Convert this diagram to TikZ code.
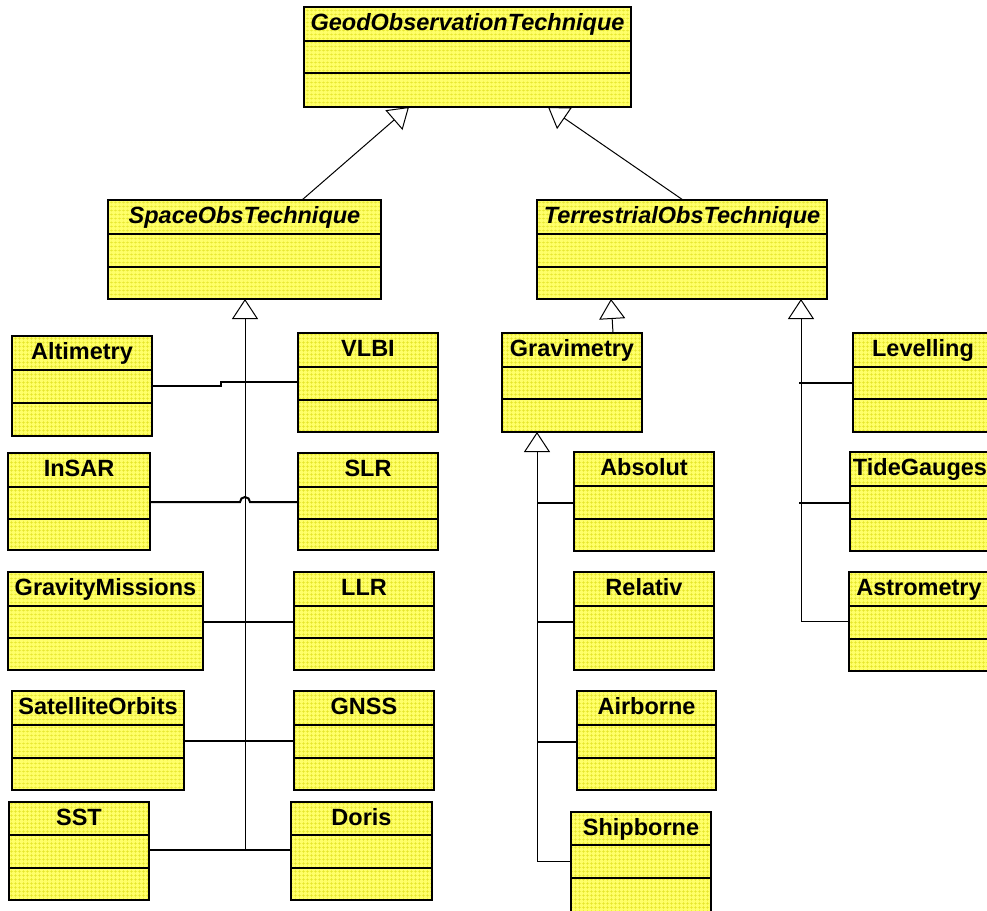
\documentclass[tikz,border=0pt]{standalone}
\usepackage{fontspec}
\setmainfont{Liberation Sans}
\usetikzlibrary{calc,arrows.meta,patterns.meta}
\definecolor{boxfill}{RGB}{255,255,105}
\definecolor{gridcol}{RGB}{228,228,40}
\tikzset{
  umlbox/.style={draw=black, line width=1.3pt, inner sep=0pt, outer sep=0pt,
    preaction={fill=boxfill},
    pattern={Hatch[angle=0,distance=4pt,line width=0.35pt]}, pattern color=gridcol},
  sepline/.style={draw=black, line width=1.3pt},
  title/.style={anchor=base, font=\fontsize{23.5}{26}\selectfont\bfseries},
  abstract/.style={title, font=\fontsize{23.5}{26}\selectfont\bfseries\itshape},
  gen/.style={draw=black, line width=1pt, -{Triangle[open, length=20pt, width=26pt, line width=1pt]}},
  thin/.style={draw=black, line width=1pt},
  branch/.style={draw=black, line width=2pt},
}
% #1 name, #2 x1, #3 y1, #4 x2, #5 y2, #6 line1, #7 line2, #8 text, #9 title style
\newcommand{\umlclass}[9]{%
  \node[umlbox, minimum width={(#4-#2)*1pt}, minimum height={(#5-#3)*1pt}, anchor=north west] (#1) at (#2,#3) {};
  \draw[sepline] ($(#1.north west)+(0,#6-#3)$) -- ($(#1.north east)+(0,#6-#3)$);
  \draw[sepline] ($(#1.north west)+(0,#7-#3)$) -- ($(#1.north east)+(0,#7-#3)$);
  \node[#9] (#1-t) at ($(#1.north)+(0,23)$) {#8};
}
\begin{document}
\begin{tikzpicture}[x=1pt,y=-1pt]
\useasboundingbox (0,0) rectangle (987,910);
\clip (0,0) rectangle (987,910);
\umlclass{geod}{304}{7}{631}{107}{41}{73}{GeodObservationTechnique}{abstract}
\umlclass{space}{108}{200}{381}{299}{234}{267}{SpaceObsTechnique}{abstract}
\umlclass{terr}{537}{200}{827}{299}{234}{267}{TerrestrialObsTechnique}{abstract}
\umlclass{alt}{12}{336}{152}{436}{370}{403}{Altimetry}{title}
\umlclass{vlbi}{298}{333}{438}{432}{367}{400}{VLBI}{title}
\umlclass{insar}{8}{453}{150}{550}{487}{519}{InSAR}{title}
\umlclass{slr}{298}{453}{438}{550}{487}{519}{SLR}{title}
\umlclass{gm}{8}{572}{203}{670}{606}{638}{GravityMissions}{title}
\umlclass{llr}{294}{572}{434}{670}{606}{638}{LLR}{title}
\umlclass{so}{12}{691}{184}{790}{725}{758}{SatelliteOrbits}{title}
\umlclass{gnss}{294}{691}{434}{790}{725}{758}{GNSS}{title}
\umlclass{sst}{9}{802}{149}{900}{835}{868}{SST}{title}
\umlclass{doris}{291}{802}{432}{900}{835}{868}{Doris}{title}
\umlclass{grav}{502}{333}{642}{432}{367}{399}{Gravimetry}{title}
\umlclass{abs}{574}{452}{714}{551}{486}{519}{Absolut}{title}
\umlclass{rel}{574}{572}{714}{670}{606}{638}{Relativ}{title}
\umlclass{air}{577}{691}{716}{790}{725}{758}{Airborne}{title}
\umlclass{ship}{571}{812}{711}{912}{845}{878}{Shipborne}{title}
\umlclass{lev}{853}{333}{993}{432}{367}{399}{Levelling}{title}
\umlclass{tide}{850}{452}{990}{551}{486}{519}{TideGauges}{title}
\umlclass{astro}{849}{572}{989}{671}{606}{639}{Astrometry}{title}

% top-level generalizations
\draw[gen] ($(space.north west)+(194,0)$) -- ($(geod.south west)+(105,0)$);
\draw[gen] ($(terr.north west)+(146,0)$) -- ($(geod.south west)+(244,0)$);

% space trunk
\coordinate (sj) at ($(space.south west)+(137,551)$);
\draw[gen] (sj) -- (space.south -| sj);
\draw[branch] ($(alt.north east)+(0,50)$) -- ++(69,0) -- ++(0,-4) -- ($(vlbi.north west)+(0,49)$);
\draw[branch] ($(insar.north east)+(0,49)$) -- ++(90,0) arc[start angle=180, end angle=0, radius=5pt] -- ($(slr.north west)+(0,49)$);
\draw[branch] ($(gm.north east)+(0,50)$) -- ($(llr.north west)+(0,50)$);
\draw[branch] ($(so.north east)+(0,50)$) -- ($(gnss.north west)+(0,50)$);
\draw[branch] ($(sst.north east)+(0,48)$) -- ($(doris.north west)+(0,48)$);

% gravimetry
\draw[gen] ($(grav.north west)+(111,0)$) -- ($(terr.south west)+(74,0)$);
\coordinate (gj) at ($(grav.south west)+(35,429)$);
\draw[thin] ($(ship.north west)+(0,49)$) -- (gj);
\draw[gen] (gj) -- (grav.south -| gj);
\draw[branch] ($(abs.north west)+(0,51)$) -- ($(abs.north west)+(-37,51)$);
\draw[branch] ($(rel.north west)+(0,50)$) -- ($(rel.north west)+(-37,50)$);
\draw[branch] ($(air.north west)+(0,51)$) -- ($(air.north west)+(-40,51)$);

% terrestrial right trunk
\coordinate (tj) at ($(astro.north west)+(-48,49)$);
\draw[thin] ($(astro.north west)+(0,49)$) -- (tj);
\draw[gen] (tj) -- (terr.south west -| tj);
\draw[branch] ($(lev.north west)+(0,50)$) -- ($(lev.north west)+(-54,50)$);
\draw[branch] ($(tide.north west)+(0,51)$) -- ($(tide.north west)+(-51,51)$);
\end{tikzpicture}
\end{document}
